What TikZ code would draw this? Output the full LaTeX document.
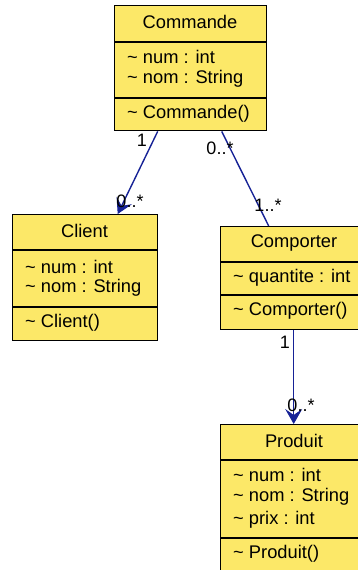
\documentclass[tikz,border=0pt]{standalone}
\usepackage{fontspec}
\setmainfont{Liberation Sans}
\usetikzlibrary{arrows.meta}
\definecolor{clsfill}{RGB}{252,232,104}
\definecolor{linkcol}{RGB}{22,34,150}
\tikzset{
  classbox/.style={draw=black, line width=1.4pt, fill=clsfill, anchor=north west, inner sep=0pt},
  divider/.style={draw=black, line width=1.4pt},
  title/.style={inner sep=0pt, font=\fontsize{18.3}{21}\selectfont},
  member/.style={inner sep=0pt, anchor=west, font=\fontsize{18.3}{21}\selectfont},
  mult/.style={inner sep=0pt, font=\fontsize{18}{21}\selectfont},
  link/.style={draw=linkcol, line width=1.4pt},
  navarrow/.style={-{Stealth[length=15pt,width=17pt,inset=6pt,line width=1pt]}}
}
\begin{document}
\begin{tikzpicture}[x=1pt,y=-1pt]
\useasboundingbox (0,0) rectangle (358,570);
% Commande
\node[classbox, minimum width=152pt, minimum height=125pt] (commande) at (114,5) {};
\draw[divider] (114,42) -- (266,42);
\draw[divider] (114,98) -- (266,98);
\node[title] (cmdt) at (190,22) {Commande};
\node[member] (cmda1) at (127,57) {\textasciitilde{} num : int};
\node[member] (cmda2) at (127,79) {\textasciitilde{} nom : String};
\node[member] (cmdm1) at (127,114) {\textasciitilde{} Commande()};
% Client
\node[classbox, minimum width=145pt, minimum height=126pt] (client) at (12,214) {};
\draw[divider] (12,250) -- (157,250);
\draw[divider] (12,307) -- (157,307);
\node[title] (clit) at (84.5,231) {Client};
\node[member] (clia1) at (25,267) {\textasciitilde{} num : int};
\node[member] (clia2) at (25,288) {\textasciitilde{} nom : String};
\node[member] (clim1) at (25,323) {\textasciitilde{} Client()};
% Comporter
\node[classbox, minimum width=142pt, minimum height=103pt] (comporter) at (220,226) {};
\draw[divider] (220,262) -- (362,262);
\draw[divider] (220,295) -- (362,295);
\node[title] (comt) at (294,243) {Comporter};
\node[member] (coma1) at (233,278) {\textasciitilde{} quantite : int};
\node[member] (comm1) at (233,311) {\textasciitilde{} Comporter()};
% Produit
\node[classbox, minimum width=142pt, minimum height=151pt] (produit) at (220,424) {};
\draw[divider] (220,460) -- (362,460);
\draw[divider] (220,538) -- (362,538);
\node[title] (prot) at (294,441) {Produit};
\node[member] (proa1) at (233,475) {\textasciitilde{} num : int};
\node[member] (proa2) at (233,497) {\textasciitilde{} nom : String};
\node[member] (proa3) at (233,520) {\textasciitilde{} prix : int};
\node[member] (prom1) at (233,554) {\textasciitilde{} Produit()};
% connectors
\draw[link, navarrow] ([xshift=-33pt]commande.south) -- ([xshift=32.5pt]client.north);
\draw[link] ([xshift=31pt]commande.south) -- ([xshift=-23pt]comporter.north);
\draw[link, navarrow] ([xshift=2pt]comporter.south) -- ([xshift=2pt]produit.north);
% multiplicities
\node[mult] (m1) at (142,140) {1};
\node[mult] (m2) at (130,201) {0..*};
\node[mult] (m3) at (220,148) {0..*};
\node[mult] (m4) at (268,205) {1..*};
\node[mult] (m5) at (285,342) {1};
\node[mult] (m6) at (301,405) {0..*};
\end{tikzpicture}
\end{document}
